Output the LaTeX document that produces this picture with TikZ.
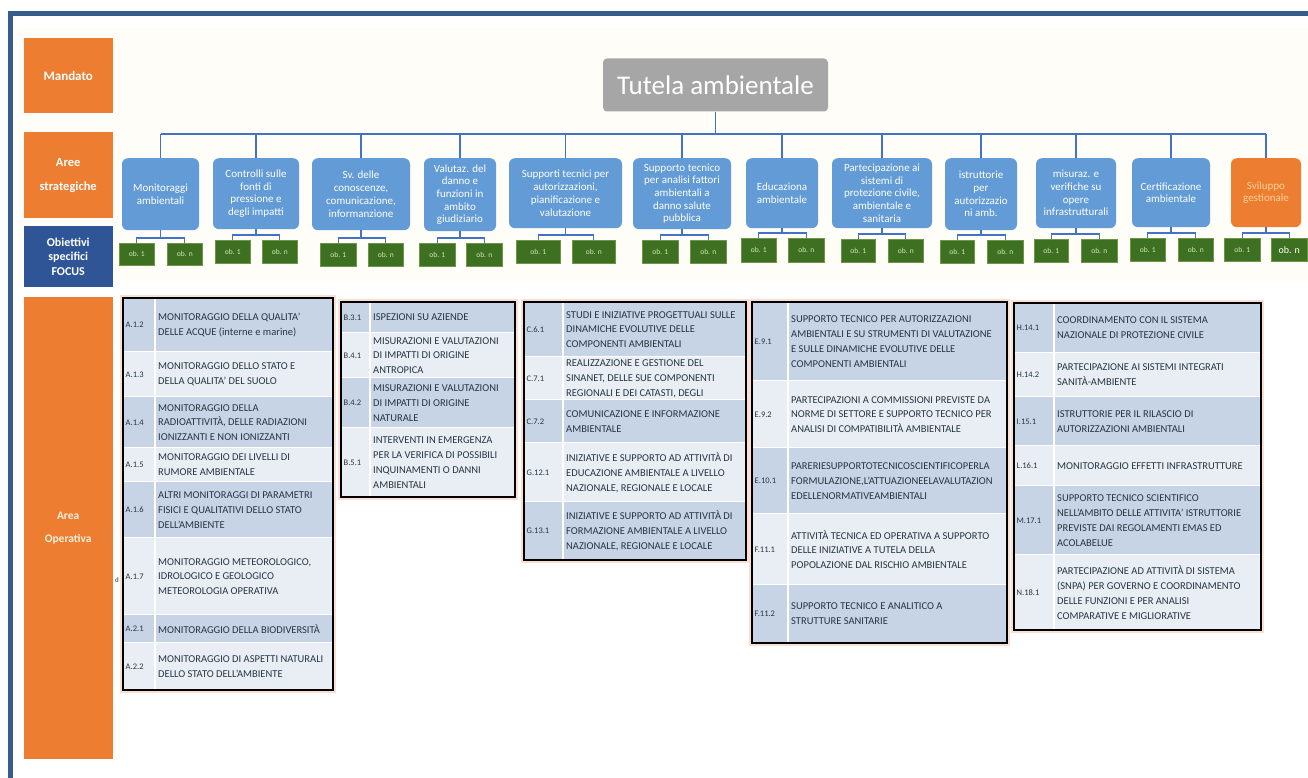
\documentclass[tikz,border=0pt]{standalone}
\usepackage{fontspec}
\setmainfont{Carlito}
\usetikzlibrary{calc}
\definecolor{frameblue}{RGB}{55,93,140}
\definecolor{orng}{RGB}{237,125,49}
\definecolor{focusblue}{RGB}{47,85,151}
\definecolor{sblue}{RGB}{98,155,213}
\definecolor{tgrey}{RGB}{166,166,166}
\definecolor{obgreen}{RGB}{62,112,34}
\definecolor{obborder}{RGB}{110,150,70}
\definecolor{connblue}{RGB}{68,114,196}
\definecolor{rowdk}{RGB}{198,212,230}
\definecolor{rowlt}{RGB}{233,238,245}
\definecolor{tabtext}{RGB}{38,54,64}
\definecolor{cream}{RGB}{254,253,247}
\definecolor{obtext}{RGB}{215,232,190}
\definecolor{svtext}{RGB}{255,210,150}
\definecolor{opertext}{RGB}{255,240,222}
\definecolor{tabshadow}{RGB}{250,222,210}

\tikzset{
  sbox/.style={fill=sblue, rounded corners=6pt, text=white, align=center, inner sep=1pt, font=\fontsize{11}{12.7}\selectfont},
  svbox/.style={sbox, fill=orng, text=svtext},
  obbox/.style={fill=obgreen, draw=obborder, line width=0.6pt, text=obtext, inner sep=0pt, font=\fontsize{7.5}{8}\selectfont},
  obbig/.style={font=\fontsize{10}{11}\selectfont, text=white},
  conn/.style={draw=connblue, line width=1.4pt},
  lcol/.style={text=white, align=center, inner sep=0pt},
  lab/.style={text=tabtext, inner sep=0pt, font=\fontsize{8.5}{9}\selectfont},
  txt/.style={text=tabtext, inner sep=0pt, align=left, font=\fontsize{10.5}{14.8}\selectfont},
  tabframe/.style={draw=black, line width=1.8pt},
  tabshade/.style={draw=tabshadow, line width=1.5pt},
  colline/.style={draw=white, line width=1.8pt},
}

% name, left, right, bottom, style, text
\newcommand{\strat}[6]{%
  \node[#5, minimum width={#3-#2}, minimum height={#4-158}, anchor=north] (s#1) at ({(#2+#3)/2},158) {#6};}

% num, la, ra, lb, rb, top, bottom, extra style for ob n
\newcommand{\obpair}[8]{%
  \node[obbox, minimum width={#3-#2}, minimum height={#7-#6}, anchor=north west] (o#1a) at (#2,#6) {ob. 1};
  \node[obbox, #8, minimum width={#5-#4}, minimum height={#7-#6}, anchor=north west] (o#1b) at (#4,#6) {ob. n};
  \draw[conn, line width=1.2pt] (o#1a.north) -- ++(0,-5) -| (o#1b.north);
  \draw[conn, line width=1.2pt] (s#1.south) |- ($(o#1a.north)+(0,-5)$);}

% name, x1, xm, x2, y1, y2, fill, label, text
\newcommand{\oprow}[9]{%
  \fill[#7] (#2,#5) rectangle (#4,#6);
  \node[lab, anchor=west] (#1l) at ({#2+2.5},{(#5+#6)/2}) {#8};
  \node[txt, anchor=west] (#1t) at ({#3+3},{(#5+#6)/2}) {#9};
  \draw[white, line width=1.2pt] (#2,#6) -- (#4,#6);}

\begin{document}
\begin{tikzpicture}[x=1pt,y=-1pt]
\useasboundingbox (0,0) rectangle (1308,778);
\fill[white] (0,0) rectangle (1308,778);
\fill[cream] (17,28) rectangle (1308,282);
\draw[frameblue, line width=5pt] (10,13.5) rectangle (1340,800);

% left label column
\node[lcol, fill=orng, minimum width=89, minimum height=75, anchor=north west, font=\fontsize{13}{15}\selectfont\bfseries] (mand) at (23.5,38) {Mandato};
\node[lcol, fill=orng, minimum width=89, minimum height=86, anchor=north west, font=\fontsize{12.5}{24}\selectfont\bfseries] (aree) at (23.5,132) {Aree\\strategiche};
\node[lcol, fill=focusblue, minimum width=89, minimum height=61, anchor=north west, font=\fontsize{12}{14.5}\selectfont\bfseries] (focus) at (23.5,226) {Obiettivi\\specifici\\FOCUS};
\node[lcol, fill=orng, text=opertext, minimum width=89, minimum height=462, anchor=north west, font=\fontsize{11.5}{23}\selectfont\bfseries] (oper) at (23.5,297) {Area\\Operativa};

% mandate
\node[fill=tgrey, rounded corners=4pt, minimum width=225, minimum height=53, text=white, inner sep=0pt, font=\fontsize{27}{30}\selectfont] (tut) at (715.5,85) {Tutela ambientale};

% strategic areas
\strat{1}{122}{199}{230}{sbox}{Monitoraggi\\ambientali}
\strat{2}{213}{299}{229}{sbox}{Controlli sulle\\fonti di\\pressione e\\degli impatti}
\strat{3}{312}{410}{230}{sbox}{Sv. delle\\conoscenze,\\comunicazione,\\informanzione}
\strat{4}{424}{496}{231}{sbox}{Valutaz. del\\danno e\\funzioni in\\ambito\\giudiziario}
\strat{5}{509}{622}{228}{sbox}{Supporti tecnici per\\autorizzazioni,\\pianificazione e\\valutazione}
\strat{6}{633}{731}{229}{sbox}{Supporto tecnico\\per analisi fattori\\ambientali a\\danno salute\\pubblica}
\strat{7}{746}{818}{228}{sbox}{Educaziona\\ambientale}
\strat{8}{832}{932}{228}{sbox}{Partecipazione ai\\sistemi di\\protezione civile,\\ambientale e\\sanitaria}
\strat{9}{945}{1017}{230}{sbox}{istruttorie\\per\\autorizzazio\\ni amb.}
\strat{10}{1036}{1116}{228}{sbox}{misuraz. e\\verifiche su\\opere\\infrastrutturali}
\strat{11}{1132}{1210}{227}{sbox}{Certificazione\\ambientale}
\strat{12}{1231}{1301}{227}{svbox}{Sviluppo\\gestionale}

% tree connectors
\coordinate (bus) at (0,134);
\draw[conn] (tut.south) -- (tut.south |- bus);
\draw[conn] (s1.north |- bus) -- (s12.north |- bus);
\foreach \i in {1,...,12} {\draw[conn] (s\i.north) -- (s\i.north |- bus);}

% objectives
\obpair{1}{119}{154}{167}{202}{243}{265}{}
\obpair{2}{215}{250}{262}{297}{240}{263}{}
\obpair{3}{320}{356}{368}{403}{243}{266}{}
\obpair{4}{419}{455}{466}{502}{243}{266}{}
\obpair{5}{516}{560}{572}{615}{240}{263}{}
\obpair{6}{642}{678}{690}{726}{240}{263}{}
\obpair{7}{741}{776}{788}{824}{238}{262}{}
\obpair{8}{841}{875}{888}{923}{239}{262}{}
\obpair{9}{940}{974}{987}{1023}{240}{263}{}
\obpair{10}{1034}{1068}{1081}{1117}{239}{262}{}
\obpair{11}{1130}{1165}{1178}{1213}{238}{261}{}
\obpair{12}{1224}{1260}{1271}{1307}{238}{261}{obbig}

% table shadows
\draw[tabshade] (121,296) rectangle (335,692);
\draw[tabshade] (339,300) rectangle (517,499);
\draw[tabshade] (522,300) rectangle (748,562);
\draw[tabshade] (750,300) rectangle (1009,645);
\draw[tabshade] (1012,301) rectangle (1263,632);

% Table A
\oprow{a12}{123}{155}{333}{298}{352}{rowdk}{A.1.2}{MONITORAGGIO DELLA QUALITA'\\DELLE ACQUE (interne e marine)}
\oprow{a13}{123}{155}{333}{352}{397}{rowlt}{A.1.3}{MONITORAGGIO DELLO STATO E\\DELLA QUALITA' DEL SUOLO}
\oprow{a14}{123}{155}{333}{397}{448}{rowdk}{A.1.4}{MONITORAGGIO DELLA\\RADIOATTIVITÀ, DELLE RADIAZIONI\\IONIZZANTI E NON IONIZZANTI}
\oprow{a15}{123}{155}{333}{448}{482}{rowlt}{A.1.5}{MONITORAGGIO DEI LIVELLI DI\\RUMORE AMBIENTALE}
\oprow{a16}{123}{155}{333}{482}{538}{rowdk}{A.1.6}{ALTRI MONITORAGGI DI PARAMETRI\\FISICI E QUALITATIVI DELLO STATO\\DELL'AMBIENTE}
\oprow{a17}{123}{155}{333}{538}{615}{rowlt}{A.1.7}{MONITORAGGIO METEOROLOGICO,\\IDROLOGICO E GEOLOGICO\\METEOROLOGIA OPERATIVA}
\oprow{a21}{123}{155}{333}{615}{643}{rowdk}{A.2.1}{MONITORAGGIO DELLA BIODIVERSITÀ}
\oprow{a22}{123}{155}{333}{643}{690}{rowlt}{A.2.2}{MONITORAGGIO DI ASPETTI NATURALI\\DELLO STATO DELL'AMBIENTE}
\draw[colline] (155,298) -- (155,690);
\draw[tabframe] (123,298) rectangle (333,690);
\node[lab, font=\fontsize{7}{8}\selectfont] (strayd) at (117,580) {d};

% Table B
\oprow{b31}{341}{370}{515}{302}{333}{rowdk}{B.3.1}{ISPEZIONI SU AZIENDE}
\oprow{b41}{341}{370}{515}{333}{378}{rowlt}{B.4.1}{MISURAZIONI E VALUTAZIONI\\DI IMPATTI DI ORIGINE\\ANTROPICA}
\oprow{b42}{341}{370}{515}{378}{428}{rowdk}{B.4.2}{MISURAZIONI E VALUTAZIONI\\DI IMPATTI DI ORIGINE\\NATURALE}
\oprow{b51}{341}{370}{515}{428}{497}{rowlt}{B.5.1}{INTERVENTI IN EMERGENZA\\PER LA VERIFICA DI POSSIBILI\\INQUINAMENTI O DANNI\\AMBIENTALI}
\draw[colline] (370,302) -- (370,497);
\draw[tabframe] (341,302) rectangle (515,497);

% Table C/G
\oprow{c61}{524}{563}{746}{302}{357}{rowdk}{C.6.1}{STUDI E INIZIATIVE PROGETTUALI SULLE\\DINAMICHE EVOLUTIVE DELLE\\COMPONENTI AMBIENTALI}
\oprow{c71}{524}{563}{746}{357}{400}{rowlt}{C.7.1}{REALIZZAZIONE E GESTIONE DEL\\SINANET, DELLE SUE COMPONENTI\\REGIONALI E DEI CATASTI, DEGLI}
\oprow{c72}{524}{563}{746}{400}{443}{rowdk}{C.7.2}{COMUNICAZIONE E INFORMAZIONE\\AMBIENTALE}
\oprow{g121}{524}{563}{746}{443}{502}{rowlt}{G.12.1}{INIZIATIVE E SUPPORTO AD ATTIVITÀ DI\\EDUCAZIONE AMBIENTALE A LIVELLO\\NAZIONALE, REGIONALE E LOCALE}
\oprow{g131}{524}{563}{746}{502}{560}{rowdk}{G.13.1}{INIZIATIVE E SUPPORTO AD ATTIVITÀ DI\\FORMAZIONE AMBIENTALE A LIVELLO\\NAZIONALE, REGIONALE E LOCALE}
\draw[colline] (563,302) -- (563,560);
\draw[tabframe] (524,302) rectangle (746,560);

% Table E/F
\oprow{e91}{752}{788}{1007}{302}{381}{rowdk}{E.9.1}{SUPPORTO TECNICO PER AUTORIZZAZIONI\\AMBIENTALI E SU STRUMENTI DI VALUTAZIONE\\E SULLE DINAMICHE EVOLUTIVE DELLE\\COMPONENTI AMBIENTALI}
\oprow{e92}{752}{788}{1007}{381}{448}{rowlt}{E.9.2}{PARTECIPAZIONI A COMMISSIONI PREVISTE DA\\NORME DI SETTORE E SUPPORTO TECNICO PER\\ANALISI DI COMPATIBILITÀ AMBIENTALE}
\oprow{e101}{752}{788}{1007}{448}{514}{rowdk}{E.10.1}{PARERIESUPPORTOTECNICOSCIENTIFICOPERLA\\FORMULAZIONE,L'ATTUAZIONEELAVALUTAZION\\EDELLENORMATIVEAMBIENTALI}
\oprow{f111}{752}{788}{1007}{514}{585}{rowlt}{F.11.1}{ATTIVITÀ TECNICA ED OPERATIVA A SUPPORTO\\DELLE INIZIATIVE A TUTELA DELLA\\POPOLAZIONE DAL RISCHIO AMBIENTALE}
\oprow{f112}{752}{788}{1007}{585}{643}{rowdk}{F.11.2}{SUPPORTO TECNICO E ANALITICO A\\STRUTTURE SANITARIE}
\draw[colline] (788,302) -- (788,643);
\draw[tabframe] (752,302) rectangle (1007,643);

% Table H-N
\oprow{h141}{1014}{1054}{1261}{303}{353}{rowdk}{H.14.1}{COORDINAMENTO CON IL SISTEMA\\NAZIONALE DI PROTEZIONE CIVILE}
\oprow{h142}{1014}{1054}{1261}{353}{397}{rowlt}{H.14.2}{PARTECIPAZIONE AI SISTEMI INTEGRATI\\SANITÀ-AMBIENTE}
\oprow{i151}{1014}{1054}{1261}{397}{446}{rowdk}{I.15.1}{ISTRUTTORIE PER IL RILASCIO DI\\AUTORIZZAZIONI AMBIENTALI}
\oprow{l161}{1014}{1054}{1261}{446}{486}{rowlt}{L.16.1}{MONITORAGGIO EFFETTI INFRASTRUTTURE}
\oprow{m171}{1014}{1054}{1261}{486}{555}{rowdk}{M.17.1}{SUPPORTO TECNICO SCIENTIFICO\\NELL'AMBITO DELLE ATTIVITA' ISTRUTTORIE\\PREVISTE DAI REGOLAMENTI EMAS ED\\ACOLABELUE}
\oprow{n181}{1014}{1054}{1261}{555}{630}{rowlt}{N.18.1}{PARTECIPAZIONE AD ATTIVITÀ DI SISTEMA\\(SNPA) PER GOVERNO E COORDINAMENTO\\DELLE FUNZIONI E PER ANALISI\\COMPARATIVE E MIGLIORATIVE}
\draw[colline] (1054,303) -- (1054,630);
\draw[tabframe] (1014,303) rectangle (1261,630);
\end{tikzpicture}
\end{document}
